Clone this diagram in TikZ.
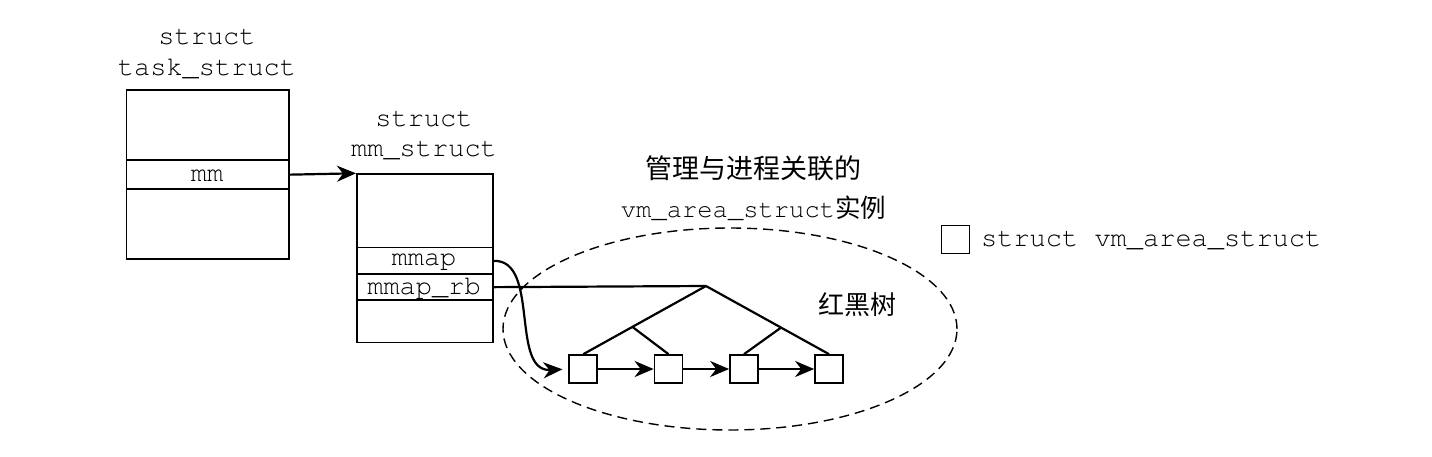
\documentclass[tikz,border=0pt]{standalone}
\usepackage{fontspec}
\setmonofont{TeX Gyre Cursor}
\newfontfamily\cjk{Noto Sans CJK SC}
\usetikzlibrary{arrows.meta,shapes.geometric,calc}
\begin{document}
\begin{tikzpicture}[x=1pt,y=-1pt,line width=2.2pt,
  box/.style={draw,line width=1.7pt,inner sep=0pt,anchor=north west},
  tt/.style={font=\fontsize{27}{30}\selectfont\ttfamily,inner sep=0pt,anchor=base},
  cj/.style={font=\fontsize{27}{30}\selectfont\cjk,inner sep=0pt},
  sq/.style={draw,line width=1.7pt,minimum size=28pt,inner sep=0pt},
  arr/.style={-{Stealth[length=19pt,width=16pt,inset=6pt]},line width=2.2pt}]
\useasboundingbox (0,0) rectangle (1432,456);
% task_struct
\node[box,minimum width=162.3pt,minimum height=169pt] (task) at (125.7,89.3) {};
\node[box,minimum width=162.3pt,minimum height=29pt] (mmf) at (125.7,159.3) {};
\node[tt] (tmm) at (207,181.7) {mm};
\node[tt] (t1) at (207,44.3) {struct};
\node[tt] (t2) at (207,75) {task\_struct};
% mm_struct
\node[box,minimum width=136.3pt,minimum height=168.4pt] (mms) at (356,173.3) {};
\node[box,minimum width=136.3pt,minimum height=26.6pt] (mmap) at (356,246.7) {};
\node[box,minimum width=136.3pt,minimum height=26pt] (mmaprb) at (356,273.3) {};
\node[tt] (tmmap) at (424,265) {mmap};
\node[tt] (tmmaprb) at (424,294) {mmap\_rb};
\node[tt] (m1) at (424,126.7) {struct};
\node[tt] (m2) at (424,156.7) {mm\_struct};
\draw[arr] (mmf.east) -- (mms.north west);
% group ellipse
\node[draw,dash pattern=on 10pt off 6pt,line width=1.4pt,ellipse,minimum width=454pt,minimum height=202pt,inner sep=0pt] (grp) at (730,329) {};
\node[cj] (g1) at (753,168) {管理与进程关联的};
\node[tt,font=\fontsize{25.5}{30}\selectfont\ttfamily] (g2) at (753.5,217.3) {vm\_area\_struct{\cjk 实例}};
\node[cj,font=\fontsize{26}{30}\selectfont\cjk] (rb) at (857,305) {红黑树};
% vm areas
\node[sq] (v1) at (583.3,369) {};
\node[sq] (v2) at (668.5,369) {};
\node[sq] (v3) at (744,369) {};
\node[sq] (v4) at (829,369) {};
\draw[arr] (v1) -- (v2);
\draw[arr] (v2) -- (v3);
\draw[arr] (v3) -- (v4);
% tree
\coordinate (root) at (706,286);
\coordinate (bl) at ($(root)!0.6!(v1.north)$);
\coordinate (br) at ($(root)!0.61!(v4.north)$);
\draw (mmaprb.east) -- (root);
\draw (root) -- (v1.north);
\draw (bl) -- (v2.north);
\draw (root) -- (v4.north);
\draw (br) -- (v3.north);
% mmap list
\draw[arr,shorten >=6pt] (mmap.east) .. controls (540,260) and (510,372) .. (v1.west);
% legend
\node[sq] (leg) at (955.5,239.5) {};
\node[tt,anchor=base west] (legt) at (980,246) {struct vm\_area\_struct};
\end{tikzpicture}
\end{document}
